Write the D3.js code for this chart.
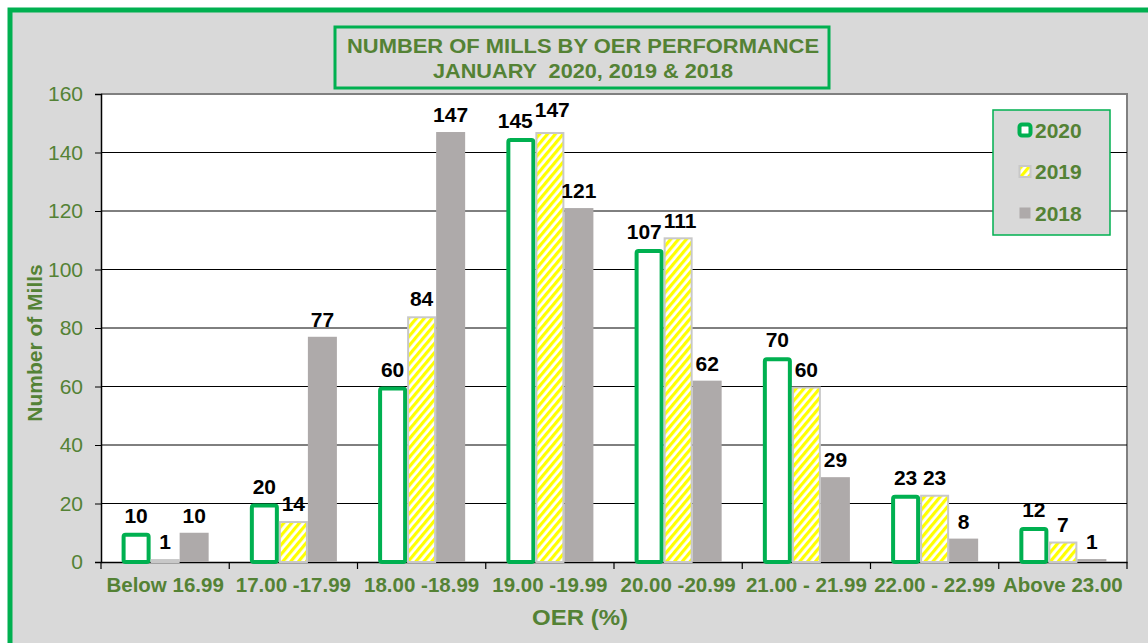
<!DOCTYPE html>
<html>
<head>
<meta charset="utf-8">
<title>Number of mills by OER performance</title>
<script src="https://d3js.org/d3.v7.min.js"></script>
<style>
body{ margin:0; background:#fff; font-family:'Liberation Sans', Arial, sans-serif; }
svg{ display:block; }
svg text{ font-family:'Liberation Sans', Arial, sans-serif; }
</style>
</head>
<body>
<svg id="chart" width="1148" height="643"></svg>
<script>
// data
var categories = ["Below 16.99", "17.00 -17.99", "18.00 -18.99", "19.00 -19.99",
                  "20.00 -20.99", "21.00 - 21.99", "22.00 - 22.99", "Above 23.00"];
var years = ["2020", "2019", "2018"];
var v2020 = [10, 20, 60, 145, 107, 70, 23, 12];
var v2019 = [1, 14, 84, 147, 111, 60, 23, 7];
var v2018 = [10, 77, 147, 121, 62, 29, 8, 1];
var yTicks = [0, 20, 40, 60, 80, 100, 120, 140, 160];

var series = [v2020, v2019, v2018];
var green = "#00b050", txt = "#548235";

var svg = d3.select("#chart");
var defs = svg.append("defs");
var pat = defs.append("pattern").attr("id", "stripes")
  .attr("patternUnits", "userSpaceOnUse").attr("width", 6).attr("height", 6)
  .attr("patternTransform", "rotate(40)");
pat.append("rect").attr("width", 6).attr("height", 6).attr("fill", "#fff");
pat.append("rect").attr("width", 3.2).attr("height", 6).attr("fill", "#ffff00");

// background + outer green frame
svg.append("rect").attr("x", 10).attr("y", 10).attr("width", 1200).attr("height", 700)
  .attr("fill", "#d9d9d9").attr("stroke", green).attr("stroke-width", 5);

var m = {left: 101, right: 1127, top: 94, bottom: 562};

var x = d3.scaleBand().domain(categories).range([m.left, m.right]).paddingInner(0).paddingOuter(0);
var x1 = d3.scaleBand().domain(years).range([0, x.bandwidth()]).paddingInner(0).paddingOuter(0.71);
var y = d3.scaleLinear().domain([0, 160]).range([m.bottom, m.top]);

// plot area
svg.append("rect").attr("x", m.left).attr("y", m.top)
  .attr("width", m.right - m.left).attr("height", m.bottom - m.top)
  .attr("fill", "#fff");
svg.append("path")
  .attr("d", "M" + m.left + "," + m.top + "H" + m.right + "V" + m.bottom)
  .attr("fill", "none").attr("stroke", "#808080").attr("stroke-width", 2);

// gridlines
svg.append("g").selectAll("line").data(yTicks.filter(function(d){ return d > 0 && d < 160; }))
  .enter().append("line")
  .attr("x1", m.left).attr("x2", m.right)
  .attr("y1", function(d){ return y(d); }).attr("y2", function(d){ return y(d); })
  .attr("stroke", "#000").attr("stroke-width", 1);

// y axis
var yAxis = svg.append("g").attr("transform", "translate(" + m.left + ",0)")
  .call(d3.axisLeft(y).tickValues(yTicks).tickSize(6).tickPadding(12));
yAxis.select(".domain").attr("stroke", "#000").attr("stroke-width", 1.5);
yAxis.selectAll(".tick line").attr("stroke", "#000");
yAxis.selectAll("text").attr("fill", txt).style("font-size", "21px");

// x axis
var xAxis = svg.append("g").attr("transform", "translate(0," + m.bottom + ")")
  .call(d3.axisBottom(x).tickSize(0).tickPadding(15).tickSizeOuter(0));
xAxis.select(".domain").attr("stroke", "#000").attr("stroke-width", 1.5);
xAxis.selectAll("text").attr("fill", txt).style("font-size", "20.5px").style("font-weight", "bold");
svg.append("g").selectAll("line").data(d3.range(categories.length + 1)).enter().append("line")
  .attr("x1", function(i){ return m.left + i * x.step(); })
  .attr("x2", function(i){ return m.left + i * x.step(); })
  .attr("y1", m.bottom).attr("y2", m.bottom + 7)
  .attr("stroke", "#000").attr("stroke-width", 1.2);

// bars
var styles = [
  {fill: "#fff", stroke: green, sw: 4},
  {fill: "url(#stripes)", stroke: "#c8c8c8", sw: 2},
  {fill: "#aeaaaa", stroke: "none", sw: 0}
];
var labels = []; // labels[si][ci] -> text node
series.forEach(function(vals, si){
  var st = styles[si];
  var g = svg.append("g");
  g.selectAll("rect").data(vals).enter().append("rect")
    .attr("x", function(d, i){ return x(categories[i]) + x1(years[si]) + st.sw / 2; })
    .attr("y", function(d){ return y(d) + st.sw / 2; })
    .attr("width", x1.bandwidth() - st.sw)
    .attr("height", function(d){ return Math.max(0, y(0) - y(d) - st.sw / 2); })
    .attr("rx", si === 0 ? 2 : 0)
    .attr("fill", st.fill).attr("stroke", st.stroke).attr("stroke-width", st.sw);
  labels.push(g.selectAll("text").data(vals).enter().append("text")
    .attr("x", function(d, i){ return x(categories[i]) + x1(years[si]) + x1.bandwidth() / 2; })
    .attr("y", function(d){ return y(d) - 10; })
    .attr("text-anchor", "middle")
    .style("font-size", "21px").style("font-weight", "bold").attr("fill", "#000")
    .text(function(d){ return d; }).nodes());
});

// nudge colliding labels of neighbouring bars apart (like Excel does)
categories.forEach(function(c, ci){
  for (var si = 0; si < series.length - 1; si++) {
    var a = labels[si][ci], b = labels[si + 1][ci];
    var ya = +a.getAttribute("y"), yb = +b.getAttribute("y");
    var xa = +a.getAttribute("x"), xb = +b.getAttribute("x");
    var half = (a.getComputedTextLength() + b.getComputedTextLength()) / 2;
    var ov = half + 2 - Math.abs(xa - xb);
    if (ov > 0 && Math.abs(ya - yb) < 12) {
      a.setAttribute("x", xa - ov * 0.7);
      b.setAttribute("x", xb + ov * 0.3);
      if (ya <= yb) a.setAttribute("y", yb - 11);
      else b.setAttribute("y", ya - 11);
    }
  }
});

// axis titles
svg.append("text").attr("transform", "translate(42,343) rotate(-90)")
  .attr("text-anchor", "middle").attr("fill", txt)
  .style("font-size", "21px").style("font-weight", "bold").text("Number of Mills");
svg.append("text").attr("x", 580).attr("y", 625).attr("text-anchor", "middle")
  .attr("fill", txt).style("font-size", "22px").style("font-weight", "bold")
  .attr("textLength", 96).attr("lengthAdjust", "spacingAndGlyphs").text("OER (%)");

// title box
svg.append("rect").attr("x", 335).attr("y", 27).attr("width", 494).attr("height", 61)
  .attr("fill", "#d9d9d9").attr("stroke", green).attr("stroke-width", 3);
var tl = ["NUMBER OF MILLS BY OER PERFORMANCE", "JANUARY  2020, 2019 & 2018"];
var tlLen = [472, 300];
svg.append("g").selectAll("text").data(tl).enter().append("text")
  .attr("x", 583).attr("y", function(d, i){ return 53 + i * 24.5; })
  .attr("text-anchor", "middle").attr("fill", txt)
  .style("font-size", "21px").style("font-weight", "bold")
  .style("white-space", "pre")
  .attr("textLength", function(d, i){ return tlLen[i]; })
  .attr("lengthAdjust", "spacingAndGlyphs")
  .text(function(d){ return d; });

// legend
var lg = svg.append("g");
lg.append("rect").attr("x", 993).attr("y", 110).attr("width", 117).attr("height", 125)
  .attr("fill", "#d9d9d9").attr("stroke", green).attr("stroke-width", 1.5);
var mk = [15, 13, 11];
years.forEach(function(yr, i){
  var cy = 130 + i * 41.5, st = styles[i], s = mk[i];
  lg.append("rect")
    .attr("x", 1025 - s / 2 + st.sw / 2).attr("y", cy - s / 2 + st.sw / 2)
    .attr("width", s - st.sw).attr("height", s - st.sw)
    .attr("rx", i === 0 ? 2.5 : 0)
    .attr("fill", st.fill).attr("stroke", st.stroke).attr("stroke-width", st.sw);
  lg.append("text").attr("x", 1035).attr("y", cy + 7.5).attr("fill", txt)
    .style("font-size", "21px").style("font-weight", "bold").text(yr);
});
</script>
</body>
</html>
